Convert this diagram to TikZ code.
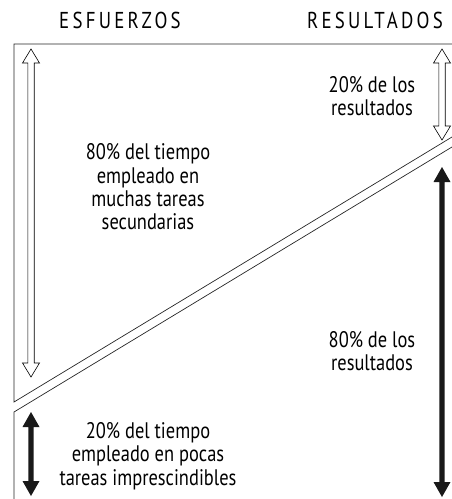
\documentclass[tikz,border=0pt]{standalone}
\usepackage{fontspec}
\setmainfont[FakeStretch=0.82]{PT Sans}
\newfontfamily\headfont[LetterSpace=14,FakeStretch=0.82]{PT Sans}
\begin{document}
\begin{tikzpicture}[x=1pt,y=-1pt,
  frame/.style={draw=black!85,line width=0.7pt},
  openarr/.style={draw=black,line width=0.6pt,fill=white},
  solidarr/.style={fill=black!90,draw=none},
  txt/.style={align=center,font=\fontsize{22.5}{23.3}\selectfont,inner sep=0pt},
  head/.style={font=\headfont\fontsize{23}{24}\selectfont,inner sep=0pt}]
\useasboundingbox (0,0) rectangle (452,499);
% frame lines
\coordinate (tr) at (452,44);
\coordinate (tl) at (14,44);
\coordinate (ul) at (14,402);
\coordinate (ur) at (452,137);
\coordinate (ll) at (14,412);
\coordinate (lr) at (452,147);
\coordinate (lb) at (14,499);
\draw[frame] (tr) -- (tl) -- (ul) -- (ur);
\draw[frame] (lb) -- (ll) -- (lr);
% open double arrows: tip, tip
\newcommand\openDA[3]{%
  \draw[openarr] (#1,#2) -- (#1+8.5,#2+14) -- (#1+3.2,#2+14) -- (#1+3.2,#3-14)
    -- (#1+8.5,#3-14) -- (#1,#3) -- (#1-8.5,#3-14) -- (#1-3.2,#3-14)
    -- (#1-3.2,#2+14) -- (#1-8.5,#2+14) -- cycle;}
\newcommand\solidDA[3]{%
  \fill[solidarr] (#1,#2) -- (#1+8.5,#2+15) -- (#1+2.6,#2+15) -- (#1+2.6,#3-15)
    -- (#1+8.5,#3-15) -- (#1,#3) -- (#1-8.5,#3-15) -- (#1-2.6,#3-15)
    -- (#1-2.6,#2+15) -- (#1-8.5,#2+15) -- cycle;}
\openDA{31}{49}{377}
\openDA{442}{49}{140}
\solidDA{442}{167}{497}
\solidDA{31}{412}{496}
% headings
\node[head] (h1) at (120,20) {ESFUERZOS};
\node[head] (h2) at (375,20) {RESULTADOS};
% texts
\node[txt] (t1) at (148,187) {80\% del tiempo\\empleado en\\muchas tareas\\secundarias};
\node[txt] (t2) at (372,96) {20\% de los\\resultados};
\node[txt] (t3) at (372,351) {80\% de los\\resultados};
\node[txt] (t4) at (148,456) {20\% del tiempo\\empleado en pocas\\tareas imprescindibles};
\end{tikzpicture}
\end{document}
